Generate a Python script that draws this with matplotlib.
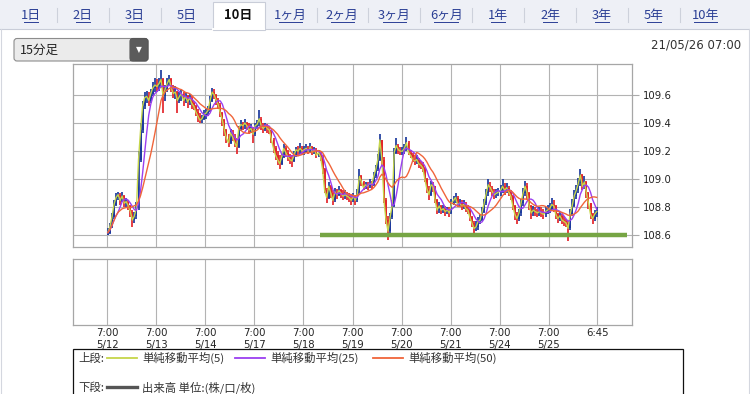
import matplotlib
matplotlib.use('Agg')
import matplotlib.pyplot as plt
import numpy as np
import pandas as pd
from matplotlib.patches import Rectangle, FancyBboxPatch

JP = ['Noto Sans CJK JP', 'DejaVu Sans']
plt.rcParams['font.family'] = JP

# ---------------- data ----------------
tabs = ['1日', '2日', '3日', '5日', '10日', '1ヶ月', '2ヶ月', '3ヶ月', '6ヶ月', '1年', '2年', '3年', '5年', '10年']
selected_tab = '10日'
interval_label = '15分足'
timestamp = '21/05/26 07:00'
days = ['5/12', '5/13', '5/14', '5/17', '5/18', '5/19', '5/20', '5/21', '5/24', '5/25']
tick_hours = [0, 24, 48, 72, 96, 120, 144, 168, 192, 216, 239.75]
tick_labels = ['7:00\n5/12', '7:00\n5/13', '7:00\n5/14', '7:00\n5/17', '7:00\n5/18', '7:00\n5/19',
               '7:00\n5/20', '7:00\n5/21', '7:00\n5/24', '7:00\n5/25', '6:45']
yticks = [108.6, 108.8, 109.0, 109.2, 109.4, 109.6]
ma_periods = [5, 25, 50]          # in 15-minute bars
bar_minutes = 60                  # data below is hourly
first_open = 108.60
support_level = 108.60
support_from_hour = 104
support_to_hour = 254

close_d = [
 [108.62,108.66,108.73,108.82,108.87,108.89,108.85,108.88,108.83,108.84,108.81,108.77,108.71,108.74,108.80,109.14,109.35,109.52,109.58,109.59,109.56,109.61,109.65,109.67],
 [109.66,109.68,109.71,109.59,109.64,109.68,109.71,109.65,109.61,109.62,109.56,109.59,109.61,109.56,109.59,109.55,109.58,109.54,109.52,109.48,109.45,109.42,109.43,109.46],
 [109.47,109.49,109.56,109.62,109.60,109.56,109.53,109.47,109.42,109.35,109.29,109.26,109.33,109.30,109.26,109.23,109.36,109.39,109.38,109.40,109.38,109.35,109.36,109.32],
 [109.38,109.39,109.43,109.38,109.36,109.38,109.36,109.35,109.28,109.22,109.17,109.14,109.11,109.16,109.22,109.19,109.16,109.14,109.13,109.17,109.21,109.20,109.22,109.20],
 [109.21,109.22,109.20,109.23,109.19,109.21,109.17,109.19,109.16,109.07,108.92,108.87,108.95,108.90,108.85,108.91,108.89,108.92,108.90,108.88,108.89,108.88,108.87,108.85],
 [108.88,108.85,108.90,109.02,108.98,108.94,108.96,108.95,108.97,108.96,109.02,109.07,109.14,109.28,109.14,108.85,108.71,108.63,108.73,108.81,109.19,109.24,109.21,109.20],
 [109.20,109.22,109.26,109.19,109.17,109.14,109.13,109.14,109.11,109.10,109.08,109.00,108.93,108.89,108.96,108.95,108.85,108.78,108.81,108.78,108.79,108.77,108.78,108.76],
 [108.83,108.85,108.87,108.82,108.83,108.81,108.82,108.79,108.78,108.73,108.69,108.65,108.66,108.70,108.71,108.77,108.83,108.90,108.96,108.94,108.91,108.89,108.90,108.91],
 [108.92,108.95,108.92,108.94,108.91,108.88,108.81,108.75,108.72,108.76,108.83,108.90,108.95,108.90,108.81,108.76,108.78,108.77,108.76,108.77,108.76,108.75,108.77,108.78],
 [108.79,108.82,108.81,108.75,108.72,108.74,108.71,108.70,108.69,108.65,108.75,108.81,108.88,108.92,108.97,109.03,108.95,108.98,108.90,108.83,108.75,108.72,108.75,108.77],
]
high_d = [
 [108.65,108.69,108.76,108.85,108.90,108.91,108.90,108.91,108.89,108.87,108.85,108.82,108.78,108.77,108.84,109.20,109.40,109.56,109.62,109.63,109.62,109.64,109.69,109.72],
 [109.71,109.72,109.78,109.72,109.67,109.72,109.74,109.72,109.67,109.66,109.63,109.62,109.64,109.62,109.62,109.60,109.61,109.59,109.56,109.53,109.50,109.47,109.46,109.49],
 [109.50,109.52,109.59,109.65,109.64,109.61,109.58,109.54,109.48,109.43,109.36,109.32,109.36,109.35,109.32,109.29,109.38,109.42,109.41,109.43,109.41,109.40,109.39,109.37],
 [109.40,109.42,109.49,109.44,109.40,109.40,109.39,109.38,109.35,109.29,109.24,109.20,109.17,109.19,109.25,109.24,109.21,109.18,109.17,109.20,109.23,109.24,109.26,109.24],
 [109.24,109.25,109.24,109.26,109.24,109.23,109.22,109.21,109.20,109.17,109.08,108.94,108.98,108.96,108.92,108.94,108.93,108.95,108.93,108.92,108.92,108.91,108.90,108.89],
 [108.90,108.89,108.93,109.07,109.03,108.99,108.98,108.98,109.00,108.99,109.05,109.10,109.18,109.32,109.28,109.16,108.87,108.74,108.76,108.85,109.22,109.29,109.25,109.23],
 [109.23,109.25,109.30,109.27,109.21,109.19,109.17,109.17,109.15,109.13,109.12,109.09,109.01,108.95,108.99,108.98,108.95,108.86,108.84,108.82,108.82,108.81,108.80,108.80],
 [108.86,108.88,108.90,108.88,108.86,108.85,108.85,108.84,108.82,108.79,108.74,108.70,108.70,108.73,108.75,108.80,108.86,108.93,109.00,108.98,108.95,108.93,108.93,108.94],
 [108.96,109.00,108.97,108.97,108.95,108.92,108.89,108.82,108.77,108.79,108.86,108.94,108.99,108.97,108.91,108.82,108.81,108.80,108.79,108.80,108.80,108.79,108.80,108.82],
 [108.83,108.87,108.85,108.82,108.76,108.77,108.75,108.74,108.72,108.70,108.79,108.86,108.92,108.96,109.01,109.07,109.04,109.02,108.99,108.91,108.83,108.76,108.78,108.80],
]
low_d = [
 [108.60,108.61,108.65,108.72,108.81,108.85,108.82,108.84,108.80,108.80,108.78,108.73,108.66,108.69,108.72,108.78,109.12,109.33,109.50,109.54,109.52,109.54,109.59,109.62],
 [109.62,109.63,109.65,109.47,109.56,109.62,109.66,109.62,109.58,109.57,109.47,109.54,109.56,109.52,109.54,109.51,109.53,109.50,109.49,109.45,109.41,109.40,109.40,109.42],
 [109.43,109.45,109.48,109.55,109.57,109.53,109.50,109.44,109.38,109.31,109.26,109.23,109.25,109.27,109.23,109.18,109.22,109.34,109.35,109.36,109.35,109.32,109.33,109.26],
 [109.31,109.36,109.38,109.35,109.33,109.34,109.33,109.32,109.26,109.19,109.14,109.10,109.07,109.10,109.15,109.16,109.13,109.11,109.09,109.12,109.16,109.17,109.18,109.17],
 [109.17,109.19,109.18,109.19,109.17,109.18,109.15,109.16,109.13,109.04,108.90,108.83,108.86,108.87,108.82,108.84,108.86,108.88,108.87,108.85,108.86,108.85,108.84,108.82],
 [108.84,108.82,108.84,108.89,108.95,108.92,108.93,108.92,108.94,108.93,108.95,109.01,109.06,109.13,109.10,108.83,108.68,108.57,108.62,108.72,108.80,109.18,109.18,109.17],
 [109.17,109.18,109.20,109.17,109.15,109.12,109.10,109.11,109.08,109.07,109.05,108.98,108.90,108.85,108.88,108.91,108.83,108.75,108.76,108.75,108.76,108.74,108.75,108.73],
 [108.75,108.82,108.83,108.80,108.80,108.78,108.79,108.77,108.75,108.70,108.66,108.62,108.63,108.64,108.68,108.70,108.76,108.82,108.88,108.91,108.88,108.86,108.87,108.88],
 [108.88,108.90,108.89,108.90,108.88,108.85,108.78,108.71,108.68,108.70,108.74,108.81,108.88,108.86,108.78,108.72,108.74,108.74,108.73,108.74,108.73,108.72,108.73,108.75],
 [108.76,108.78,108.77,108.72,108.69,108.70,108.68,108.67,108.66,108.56,108.64,108.74,108.80,108.86,108.90,108.95,108.92,108.93,108.87,108.79,108.72,108.68,108.70,108.73],
]

# ---------------- frame ----------------
df = pd.DataFrame({
    'close': np.concatenate(close_d),
    'high': np.concatenate(high_d),
    'low': np.concatenate(low_d),
})
df['open'] = df['close'].shift(1).fillna(first_open)
df['x'] = np.arange(len(df)) + 0.375
for p in ma_periods:
    w = max(1, int(round(p * 15 / bar_minutes)))
    df[f'ma{p}'] = df['close'].rolling(w, min_periods=1).mean()

W, H = 750, 394
fig = plt.figure(figsize=(W / 100, H / 100), dpi=100)
fig.patch.set_facecolor('white')

# background page (pixel coordinates)
bg = fig.add_axes([0, 0, 1, 1], zorder=0)
bg.set_xlim(0, W)
bg.set_ylim(H, 0)
bg.axis('off')

# tab bar
bg.add_patch(Rectangle((0, 0), W, 28.5, facecolor='#eef0f6', edgecolor='none'))
bg.plot([0, W], [28.5, 28.5], color='#c9cdd8', lw=0.8)
bg.plot([1, 1], [28.5, H], color='#d4d7df', lw=0.8)
bg.plot([748.5, 748.5], [28.5, H], color='#d4d7df', lw=0.8)
for i, t in enumerate(tabs):
    cx = 31 + 51.9 * i
    if t == selected_tab:
        bg.add_patch(Rectangle((cx - 26, 1.5), 52, 28, facecolor='white',
                               edgecolor='#c9cdd8', lw=0.8, zorder=3))
        bg.plot([cx - 25.6, cx + 25.6], [28.6, 28.6], color='white', lw=1.4, zorder=4)
        bg.text(cx, 15, t, ha='center', va='center', fontsize=9.3, fontweight='bold',
                color='#111111', family=JP, zorder=5)
    else:
        bg.text(cx, 15, t, ha='center', va='center', fontsize=9.3,
                color='#2b3f95', family=JP, zorder=5)
        wpx = 6.5 * len(t) + (4 if len(t) > 2 else 1)
        bg.plot([cx - wpx / 2, cx + wpx / 2], [21.8, 21.8], color='#2b3f95', lw=0.7, zorder=5)
    if i < len(tabs) - 1 and t != selected_tab and tabs[i + 1] != selected_tab:
        sx = cx + 26
        bg.plot([sx, sx], [8, 22], color='#cdd1db', lw=0.8)

# dropdown
bg.add_patch(FancyBboxPatch((14, 38.5), 134, 22.5, boxstyle='round,pad=0,rounding_size=3',
                            facecolor='#ebebeb', edgecolor='#8c8c8c', lw=0.8, zorder=2))
bg.add_patch(FancyBboxPatch((130, 38.5), 18, 22.5, boxstyle='round,pad=0,rounding_size=3',
                            facecolor='#5b5b5b', edgecolor='#555555', lw=0.8, zorder=3))
bg.add_patch(Rectangle((130, 38.5), 5, 22.5, facecolor='#5b5b5b', edgecolor='none', zorder=3))
bg.text(139, 49.5, '▼', ha='center', va='center', fontsize=5.5, color='white',
        family='DejaVu Sans', zorder=4)
bg.text(20, 50, interval_label, ha='left', va='center', fontsize=9, color='#222222',
        family=JP, zorder=4)
bg.text(741, 44.5, timestamp, ha='right', va='center', fontsize=8.5, color='#333333',
        family='DejaVu Sans')

# ---------------- price panel ----------------
xlim = (-16.9, 256.4)
ax = fig.add_axes([72.5 / W, 1 - 246.7 / H, 559 / W, 182.7 / H], zorder=2)
ax.set_facecolor('white')
ax.set_xlim(*xlim)
ax.set_ylim(108.52, 109.82)
for v in tick_hours:
    ax.axvline(v, color='#b3b3b3', lw=0.8, zorder=1)
for v in yticks:
    ax.axhline(v, color='#b3b3b3', lw=0.8, zorder=1)

up = df['close'] >= df['open']
col = np.where(up, '#1d3a9e', '#e3262b')
ax.vlines(df['x'], df['low'], df['high'], colors=col, lw=1.25, zorder=3)
ax.bar(df['x'], (df['close'] - df['open']).abs().clip(lower=0.008),
       bottom=np.minimum(df['open'], df['close']), width=0.95, color=col, lw=0, zorder=3)

ax.plot(df['x'], df['ma5'], color='#c6d64a', lw=1.0, zorder=4)
ax.plot(df['x'], df['ma25'], color='#9b3ff0', lw=1.0, zorder=5)
ax.plot(df['x'], df['ma50'], color='#f0653a', lw=1.0, zorder=6)
ax.hlines(support_level, support_from_hour, support_to_hour, color='#76a544', lw=3.2, zorder=7)

ax.yaxis.tick_right()
ax.set_yticks(yticks)
ax.set_yticklabels([f'{v:.1f}' for v in yticks], family='DejaVu Sans', fontsize=7.3, color='#222222')
ax.tick_params(axis='y', length=5, width=0.8, color='#aaaaaa', pad=3)
ax.set_xticks(tick_hours)
ax.tick_params(axis='x', length=0, labelbottom=False)
for s in ax.spines.values():
    s.set_color('#a6a6a6')
    s.set_linewidth(0.9)

# ---------------- volume panel ----------------
ax2 = fig.add_axes([72.5 / W, 1 - 325 / H, 559 / W, 66.5 / H], zorder=2)
ax2.set_facecolor('white')
ax2.set_xlim(*xlim)
ax2.set_ylim(0, 1)
for v in tick_hours:
    ax2.axvline(v, color='#b3b3b3', lw=0.8)
ax2.set_yticks([])
ax2.set_xticks(tick_hours)
ax2.set_xticklabels(tick_labels, family='DejaVu Sans', fontsize=7.3, color='#222222',
                    linespacing=1.25, va='top')
ax2.tick_params(axis='x', length=0, pad=2.5)
for s in ax2.spines.values():
    s.set_color('#a6a6a6')
    s.set_linewidth(0.9)

# ---------------- legend box ----------------
bg.add_patch(Rectangle((72.5, 348.5), 610.5, 60, facecolor='white', edgecolor='#111111', lw=0.9, zorder=2))
bg.text(78, 358, '上段:', ha='left', va='center', fontsize=8.2, color='#333333', family=JP, zorder=3)
legend_items = [('単純移動平均(5)', '#c6d64a', 107), ('単純移動平均(25)', '#9b3ff0', 235),
                ('単純移動平均(50)', '#f0653a', 373)]
for label, c, x0 in legend_items:
    bg.plot([x0, x0 + 30], [357.5, 357.5], color=c, lw=1.3, zorder=3)
    bg.text(x0 + 35, 358, label, ha='left', va='center', fontsize=8.2, color='#333333',
            family=JP, zorder=3)
bg.text(78, 387.5, '下段:', ha='left', va='center', fontsize=8.2, color='#333333', family=JP, zorder=3)
bg.plot([107, 137], [387, 387], color='#555555', lw=2.4, zorder=3)
bg.text(142, 387.5, '出来高 単位:(株/口/枚)', ha='left', va='center', fontsize=8.2,
        color='#333333', family=JP, zorder=3)

fig.savefig('out.png', dpi=100, facecolor='white')
